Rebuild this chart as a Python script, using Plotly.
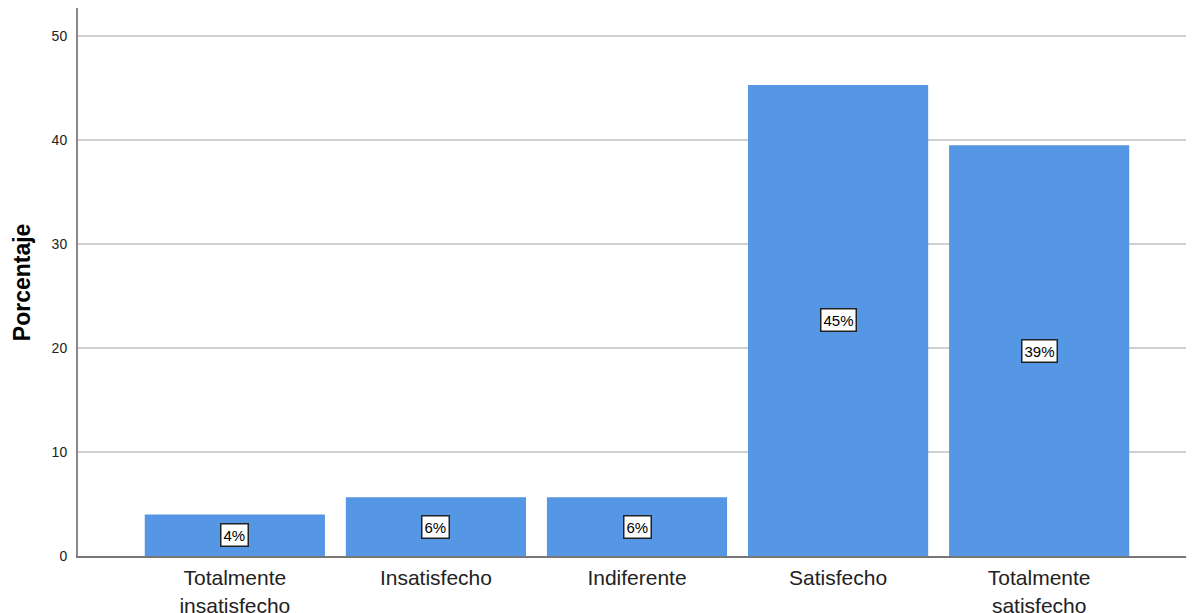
import plotly.graph_objects as go

categories = ["Totalmente<br>insatisfecho", "Insatisfecho", "Indiferente", "Satisfecho", "Totalmente<br>satisfecho"]
values = [4.0, 5.65, 5.65, 45.3, 39.5]
labels = ["4%", "6%", "6%", "45%", "39%"]
y_ticks = [0, 10, 20, 30, 40, 50]

fig = go.Figure()
fig.add_trace(go.Bar(
    x=list(range(len(categories))), y=values,
    marker=dict(color="#5596e5", line=dict(width=0)),
    hoverinfo="skip",
))

for i, (v, lab) in enumerate(zip(values, labels)):
    fig.add_annotation(
        x=i, y=v / 2, text=lab, showarrow=False,
        font=dict(family="Liberation Sans, Arial", size=15, color="#000"),
        bgcolor="white", bordercolor="#222", borderwidth=1.5, borderpad=2,
    )

fig.add_annotation(
    xref="paper", yref="paper", x=-0.05, y=0.5,
    text="<b>Porcentaje</b>", textangle=-90, showarrow=False,
    xanchor="center", yanchor="middle",
    font=dict(family="Liberation Sans, Arial", size=23, color="#000"),
)

fig.update_layout(
    width=1186, height=605,
    margin=dict(l=70, r=0, t=0, b=57, autoexpand=False),
    paper_bgcolor="white", plot_bgcolor="white",
    showlegend=False,
    bargap=0.104,
    font=dict(family="Liberation Sans, Arial", color="#222"),
)
fig.update_xaxes(
    tickmode="array", tickvals=list(range(len(categories))), ticktext=categories,
    range=[-0.78, 4.77], showgrid=False, zeroline=False, automargin=False,
    showline=True, linecolor="#777", linewidth=2,
    tickfont=dict(size=21, color="#222"), ticks="", ticklabelstandoff=2,
)
fig.update_yaxes(
    range=[0, 52.7], tickvals=y_ticks, showgrid=True, gridcolor="#cfcfcf", gridwidth=2,
    zeroline=False, showline=True, linecolor="#888", linewidth=2, automargin=False,
    tickfont=dict(size=14, color="#222"), ticks="", ticklabelstandoff=6,
)

fig.write_html("out.html")
